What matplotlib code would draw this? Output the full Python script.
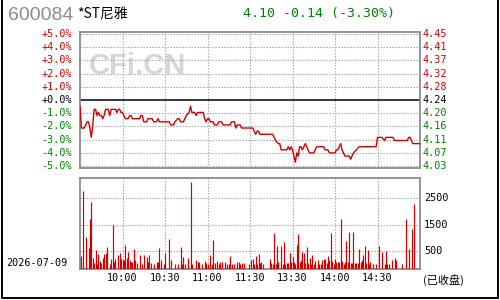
import matplotlib
matplotlib.use("Agg")
import matplotlib.pyplot as plt
from matplotlib.lines import Line2D

# ---- data ----
code = "600084"
name = "*ST尼雅"
quote = "4.10 -0.14 (-3.30%)"
date_label = "2026-07-09"
prev_close = 4.24

# minute index (0..240) and price
price_min = [0, 1, 3, 4, 5, 6, 7, 8, 9, 10, 11, 12, 13, 14, 15, 16, 17, 18, 20, 21,
             22, 25, 26, 27, 28, 29, 30, 31, 32, 34, 35, 36, 37, 42, 43, 44, 45, 47, 48, 51,
             52, 54, 55, 56, 63, 64, 66, 67, 69, 70, 71, 73, 74, 75, 77, 78, 79, 81, 82, 83,
             87, 88, 89, 90, 91, 92, 94, 95, 97, 98, 100, 101, 106, 107, 109, 110, 111, 113, 114, 120,
             122, 123, 124, 125, 126, 127, 136, 137, 138, 140, 141, 142, 146, 147, 148, 149, 150, 151, 152, 153,
             154, 155, 156, 157, 158, 159, 160, 161, 162, 165, 166, 167, 172, 173, 175, 176, 180, 181, 182, 183,
             184, 185, 186, 187, 190, 191, 192, 193, 195, 197, 209, 210, 213, 215, 216, 221, 222, 231, 232, 233,
             234, 235, 240]
price = [4.22, 4.15, 4.15, 4.16, 4.17, 4.17, 4.15, 4.12, 4.16, 4.21, 4.21, 4.19, 4.20, 4.19, 4.19, 4.18, 4.19, 4.21, 4.21, 4.19,
         4.21, 4.21, 4.20, 4.21, 4.21, 4.20, 4.20, 4.19, 4.18, 4.18, 4.19, 4.19, 4.18, 4.18, 4.19, 4.19, 4.17, 4.17, 4.18, 4.18,
         4.17, 4.17, 4.18, 4.17, 4.17, 4.16, 4.16, 4.17, 4.18, 4.18, 4.17, 4.17, 4.18, 4.19, 4.20, 4.22, 4.20, 4.20, 4.19, 4.20,
         4.20, 4.18, 4.17, 4.18, 4.18, 4.17, 4.17, 4.16, 4.16, 4.17, 4.17, 4.16, 4.16, 4.17, 4.17, 4.15, 4.16, 4.16, 4.15, 4.15,
         4.15, 4.14, 4.13, 4.14, 4.14, 4.13, 4.13, 4.12, 4.11, 4.10, 4.10, 4.08, 4.08, 4.09, 4.08, 4.09, 4.08, 4.06, 4.04, 4.07,
         4.06, 4.09, 4.09, 4.08, 4.09, 4.10, 4.09, 4.08, 4.07, 4.07, 4.08, 4.09, 4.09, 4.08, 4.08, 4.07, 4.07, 4.08, 4.08, 4.09,
         4.10, 4.08, 4.07, 4.06, 4.06, 4.05, 4.06, 4.07, 4.08, 4.09, 4.09, 4.12, 4.12, 4.11, 4.12, 4.12, 4.11, 4.11, 4.12, 4.12,
         4.11, 4.10, 4.10]

vol_min = [1, 2, 4, 6, 7, 8, 9, 10, 11, 12, 13, 14, 15, 16, 17, 18, 19, 21, 22, 23,
           24, 25, 27, 28, 29, 30, 31, 32, 33, 34, 35, 36, 37, 38, 39, 40, 42, 44, 45, 47,
           48, 49, 50, 52, 54, 55, 56, 57, 59, 60, 63, 64, 67, 69, 71, 72, 73, 74, 76, 78,
           79, 82, 83, 84, 86, 88, 89, 90, 92, 93, 94, 95, 97, 98, 99, 100, 102, 104, 105, 106,
           107, 109, 111, 112, 113, 114, 116, 119,
           121, 122, 123, 124, 125, 126, 127, 128, 129, 134, 135, 136, 137, 138, 139, 140, 142, 143, 144, 145,
           146, 147, 148, 149, 150, 151, 152, 153, 154, 155, 156, 157, 158, 159, 160, 161, 162, 163, 164, 165,
           166, 168, 169, 170, 171, 172, 173, 174, 175, 176, 177, 178, 179, 180, 181, 182, 183, 184, 185, 186,
           187, 188, 189, 190, 191, 192, 193, 194, 195, 196, 197, 198, 199, 200, 201, 202, 203, 204, 205, 207,
           209, 211, 213, 215, 216, 217, 218, 220, 222, 223, 227, 230, 232, 234, 236]
vol = [311, 2777, 1041, 613, 1708, 2362, 223, 60, 538, 10, 387, 123, 60, 223, 387, 412, 651, 10, 198, 1481,
       97, 198, 349, 425, 211, 160, 160, 714, 248, 475, 160, 72, 85, 575, 148, 35, 349, 10, 349, 286,
       72, 349, 35, 9, 85, 85, 613, 160, 9, 425, 953, 160, 9, 9, 651, 10, 274, 10, 223, 3117,
       10, 160, 85, 85, 10, 123, 60, 9, 349, 9, 915, 47, 123, 10, 85, 85, 85, 10, 9, 311,
       10, 9, 85, 85, 10, 47, 60, 9,
       160, 185, 10, 311, 9, 387, 60, 97, 10, 198, 60, 10, 1192, 10, 689, 85, 689, 10, 840, 10,
       47, 47, 425, 85, 274, 85, 10, 714, 1154, 85, 160, 462, 412, 47, 651, 47, 236, 10, 349, 10,
       123, 160, 10, 10, 160, 198, 198, 47, 311, 160, 1179, 123, 9, 198, 85, 85, 85, 1708, 123, 10,
       85, 878, 85, 1217, 47, 47, 1217, 47, 47, 47, 575, 85, 160, 349, 689, 47, 538, 9, 85, 10,
       9, 689, 462, 9, 500, 10, 10, 160, 248, 160, 10, 1708, 575, 1330, 2274]

pct_ticks = [5, 4, 3, 2, 1, 0, -1, -2, -3, -4, -5]
pct_labels = ["+5.0%", "+4.0%", "+3.0%", "+2.0%", "+1.0%", "+0.0%",
              "-1.0%", "-2.0%", "-3.0%", "-4.0%", "-5.0%"]
price_labels = ["4.45", "4.41", "4.37", "4.32", "4.28", "4.24",
                "4.20", "4.16", "4.11", "4.07", "4.03"]
time_ticks = [30, 60, 90, 120, 150, 180, 210]
time_labels = ["10:00", "10:30", "11:00", "11:30", "13:30", "14:00", "14:30"]
vol_ticks = [2500, 1500, 500]

RED = "#d00000"
GREEN = "#008000"
GRID = "#a0a0a0"
FRAME = "#8c8c8c"
MONO = "DejaVu Sans Mono"
DOTS = (0, (1.2, 1.5))

fig = plt.figure(figsize=(5, 3), dpi=100)
fig.patch.set_facecolor("white")

# ---- price panel ----
ax = fig.add_axes([0.16, 0.44, 0.68, 1 - 32 / 300 - 0.44])
pct = [(p / prev_close - 1) * 100 for p in price]
ax.set_xlim(0, 240)
ax.set_ylim(-5.15, 5.15)
for t in time_ticks:
    ax.axvline(t, color=GRID, lw=0.8, ls=DOTS, zorder=1)
for v in pct_ticks:
    if v != 0:
        ax.axhline(v, color=GRID, lw=0.8, ls=DOTS, zorder=1)
ax.axhline(0, color="black", lw=1.1, zorder=2)
ax.plot(price_min, pct, color=RED, lw=1.0, zorder=3)
ax.set_xticks([])
ax.set_yticks([])
for s in ax.spines.values():
    s.set_color(FRAME)
    s.set_linewidth(1.3)

for v, lab, plab in zip(pct_ticks, pct_labels, price_labels):
    c = RED if v > 0 else ("black" if v == 0 else GREEN)
    ax.text(-5.5, v, lab, ha="right", va="center", color=c, fontsize=7.3,
            family=MONO, clip_on=False)
    ax.text(241.5, v, plab, ha="left", va="center", color=c, fontsize=7.3,
            family=MONO, clip_on=False)

ax.text(0.17, 0.75, "CFi.CN", transform=ax.transAxes, ha="center", va="center",
        fontsize=21, fontweight="bold", family="Liberation Sans", color="#d6d6d6", zorder=0)

# ---- volume panel ----
VOL_FLOOR = -179
av = fig.add_axes([0.16, 1 - 269 / 300, 0.68, (269 - 178) / 300])
av.set_xlim(0, 240)
av.set_ylim(VOL_FLOOR, 3255)
for t in time_ticks:
    av.axvline(t, color=GRID, lw=0.8, ls=DOTS, zorder=1)
for v in vol_ticks:
    av.axhline(v, color=GRID, lw=0.8, ls=DOTS, zorder=1)
av.vlines(vol_min, VOL_FLOOR, vol, color=RED, lw=0.85, zorder=3)
av.set_yticks([])
av.set_xticks(time_ticks)
av.set_xticklabels(time_labels, family=MONO, fontsize=7.3)
av.tick_params(axis="x", length=0, pad=3)
for s in av.spines.values():
    s.set_color(FRAME)
    s.set_linewidth(1.3)
for v in vol_ticks:
    av.text(243, v, str(v), ha="left", va="center", fontsize=7.3, family=MONO,
            color="black", clip_on=False)

# ---- header and other text ----
fig.text(8 / 500, 1 - 16 / 300, code, ha="left", va="center", fontsize=14,
         family="Liberation Sans", color="#8c8c8c")
fig.text(77 / 500, 1 - 14 / 300, name, ha="left", va="center", fontsize=10,
         family=["Noto Sans CJK SC", "DejaVu Sans"], color="black")
fig.text(243 / 500, 1 - 14 / 300, quote, ha="left", va="center", fontsize=9.5,
         family=MONO, color=GREEN)
fig.text(6 / 500, 1 - 263 / 300, date_label, ha="left", va="center", fontsize=7.3,
         family=MONO, color="black")
fig.text(423 / 500, 1 - 280 / 300, "(已收盘)", ha="left", va="center", fontsize=8,
         family=["Noto Sans CJK SC", "DejaVu Sans"], color="black")

# outer frame (left, bottom, right)
fig.add_artist(Line2D([1.5 / 500, 1.5 / 500, 498 / 500, 498 / 500],
                      [1.0, 1 - 298 / 300, 1 - 298 / 300, 1.0],
                      transform=fig.transFigure, color="black", lw=1.4))

fig.savefig("out.png", dpi=100)
